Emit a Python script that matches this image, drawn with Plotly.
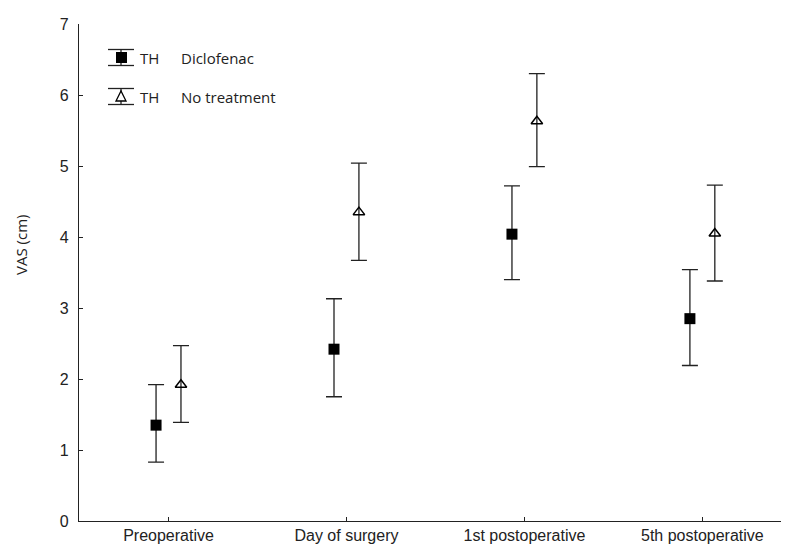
import plotly.graph_objects as go

categories = ["Preoperative", "Day of surgery", "1st postoperative", "5th postoperative"]
dic_mean = [1.35, 2.42, 4.04, 2.85]
dic_low = [0.83, 1.75, 3.40, 2.19]
dic_high = [1.92, 3.13, 4.72, 3.54]
nt_mean = [1.92, 4.35, 5.63, 4.05]
nt_low = [1.39, 3.67, 4.99, 3.38]
nt_high = [2.47, 5.04, 6.30, 4.73]
y_ticks = [0, 1, 2, 3, 4, 5, 6, 7]

W, H = 789, 552
OFF = 8  # page body margin
L, T = 79 - OFF, 24 - OFF
R = W - (786 - OFF)
B = H - (521 - OFF)
offset = 0.07
idx = list(range(len(categories)))

def err(mean, low, high):
    return dict(type="data", symmetric=False,
                array=[h - m for h, m in zip(high, mean)],
                arrayminus=[m - l for m, l in zip(mean, low)],
                color="#222", thickness=1.3, width=8)

fig = go.Figure()
fig.add_trace(go.Scatter(
    x=[i - offset for i in idx], y=dic_mean, mode="markers", name="Diclofenac",
    marker=dict(symbol="square", size=11, color="black"),
    error_y=err(dic_mean, dic_low, dic_high), showlegend=False))
fig.add_trace(go.Scatter(
    x=[i + offset for i in idx], y=nt_mean, mode="markers", name="No treatment",
    marker=dict(symbol="triangle-up-open", size=10, color="black", line=dict(width=1.5)),
    error_y=err(nt_mean, nt_low, nt_high), showlegend=False))

# legend built from shapes and annotations (screen pixel -> paper coordinates)
def px(x):
    return (x - OFF - L) / (W - L - R)

def py(y):
    return 1 - (y - OFF - T) / (H - T - B)

shapes = []
rows = [(57, "Diclofenac", "square"), (96, "No treatment", "tri")]
for yc, label, kind in rows:
    for yy in (yc - 7.5, yc + 8.5):
        shapes.append(dict(type="line", xref="paper", yref="paper",
                           x0=px(108), x1=px(134), y0=py(yy), y1=py(yy),
                           line=dict(color="#222", width=1.3)))
    shapes.append(dict(type="line", xref="paper", yref="paper",
                       x0=px(121), x1=px(121), y0=py(yc - 7.5), y1=py(yc + 8.5),
                       line=dict(color="#222", width=1.3)))
    if kind == "square":
        shapes.append(dict(type="rect", xref="paper", yref="paper",
                           x0=px(116), x1=px(127), y0=py(yc - 5), y1=py(yc + 6),
                           fillcolor="black", line=dict(color="black", width=0)))
    else:
        shapes.append(dict(type="path", xref="paper", yref="paper",
                           path="M {} {} L {} {} L {} {} Z".format(
                               px(116), py(yc + 5), px(126), py(yc + 5), px(121), py(yc - 5)),
                           fillcolor="white", line=dict(color="black", width=1.3)))

legend_font = dict(size=15, color="#222", family="Open Sans, Liberation Sans, Arial")
annotations = []
for yc, label, kind in rows:
    annotations.append(dict(xref="paper", yref="paper", x=px(138), y=py(yc + 1),
                            text="TH", showarrow=False, xanchor="left", yanchor="middle",
                            font=legend_font))
    annotations.append(dict(xref="paper", yref="paper", x=px(179), y=py(yc + 1),
                            text=label, showarrow=False, xanchor="left", yanchor="middle",
                            font=legend_font))
annotations.append(dict(xref="paper", yref="paper", x=px(21), y=py(245),
                        text="VAS (cm)", textangle=-90, showarrow=False,
                        xanchor="center", yanchor="middle",
                        font=dict(size=15, color="#222", family="Open Sans, Liberation Sans, Arial")))

fig.update_layout(
    width=W, height=H,
    margin=dict(l=L, r=R, t=T, b=B, autoexpand=False),
    plot_bgcolor="white", paper_bgcolor="white",
    font=dict(family="Liberation Sans, Arial", size=16, color="#222"),
    shapes=shapes, annotations=annotations,
    xaxis=dict(range=[-0.503, 3.47], tickmode="array", tickvals=idx, ticktext=categories,
               showline=True, linecolor="#222", linewidth=1.3, ticks="inside", ticklen=4,
               tickcolor="#222", showgrid=False, zeroline=False, automargin=False,
               tickfont=dict(size=16)),
    yaxis=dict(range=[0, 7], tickvals=y_ticks, showline=True, linecolor="#222", linewidth=1.3,
               ticks="inside", ticklen=4, tickcolor="#222", showgrid=False, zeroline=False,
               automargin=False, ticklabelstandoff=6, tickfont=dict(size=16)),
)

fig.write_html("out.html")
